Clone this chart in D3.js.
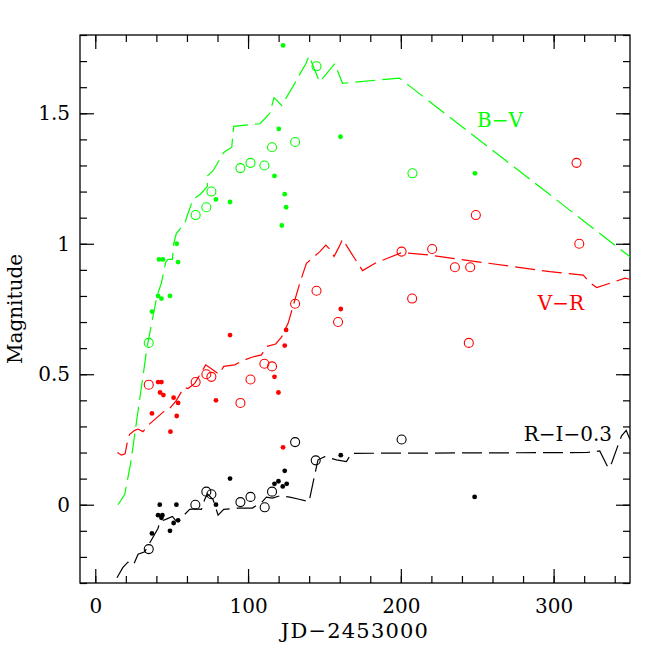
<!DOCTYPE html>
<meta charset="utf-8">
<style>
body { margin: 0; background: #fff; }
svg text { font-family: "DejaVu Serif", serif; font-size: 20px; }
.model { fill: none; stroke-width: 1.2px; stroke-dasharray: 20,7; }
</style>
<body>
<script src="https://d3js.org/d3.v7.min.js"></script>
<script>

// tick values / labels
var xTicks = [0, 100, 200, 300];
var yTicks = [0, 0.5, 1, 1.5];
var yTickLabels = ["0", "0.5", "1", "1.5"];
var xMinor = d3.range(0, 351, 20);
var yMinor = d3.range(-3, 19).map(function(d) { return d / 10; });

// B-V : open circles, filled dots, model line
var bvOpen = [[35,0.62],[65.7,1.11],[72.7,1.14],[76,1.20],[95,1.29],[101.6,1.31],[110.7,1.30],
  [115.7,1.37],[130.8,1.39],[144.8,1.68],[207.6,1.27]];
var bvFill = [[37.1,0.74],[41.1,0.80],[43.3,0.79],[48.9,0.80],[41.7,0.94],[44.3,0.94],[53.3,1.00],
  [54.2,0.93],[79,1.17],[88.2,1.16],[117.3,1.26],[120.1,1.44],[122.9,1.76],[124,1.19],[124.9,1.14],
  [122.1,1.07],[160.5,1.41],[248.5,1.27]];
var bvModel = [[14.9,0.0],[19.3,0.04],[23.2,0.16],[26.3,0.29],[28,0.36],[29.7,0.43],[31.2,0.49],
  [33.5,0.59],[36.7,0.69],[40.4,0.80],[43.3,0.85],[46.1,0.93],[47.6,0.94],[50.5,0.94],[51.3,1.0],
  [53.1,1.04],[58.7,1.08],[60.3,1.11],[64,1.17],[68.8,1.19],[73.4,1.22],[73.4,1.26],[77.1,1.28],
  [84.1,1.35],[89.3,1.37],[90.6,1.45],[107.7,1.46],[111.1,1.48],[114.2,1.50],[117,1.56],[122,1.53],
  [129.1,1.60],[133.9,1.65],[137.8,1.69],[140,1.72],[146.8,1.62],[156.8,1.69],[161.8,1.615],
  [199,1.635],[350,0.95]];

// V-R
var vrOpen = [[35,0.46],[65.7,0.47],[72.7,0.50],[76,0.49],[95,0.39],[101.6,0.48],[110.7,0.54],
  [115.7,0.53],[130.8,0.77],[144.8,0.82],[158.9,0.70],[200.5,0.97],[207.4,0.79],[220.5,0.98],
  [235.4,0.91],[245.4,0.91],[244.5,0.62],[249.1,1.11],[315,1.31],[316.8,1.00]];
var vrFill = [[37.1,0.35],[41.1,0.47],[43.3,0.47],[42.4,0.43],[44.6,0.42],[49.2,0.28],[51.3,0.41],
  [53.3,0.34],[54.2,0.39],[79,0.40],[88.2,0.65],[117.3,0.49],[119.9,0.43],[122.9,0.22],[124,0.61],
  [124.9,0.67],[160.7,0.75]];
var vrModel = [[14.5,0.20],[17.1,0.19],[19.5,0.195],[21,0.24],[22.5,0.27],[25.8,0.285],[28,0.29],
  [31.2,0.28],[35.6,0.31],[45.4,0.36],[47.5,0.36],[53.1,0.40],[58.1,0.45],[60.7,0.445],[65.1,0.465],
  [72.3,0.536],[77.1,0.516],[81,0.50],[84.1,0.53],[91.3,0.536],[95.7,0.55],[102.9,0.566],[108.8,0.574],
  [112,0.606],[118.1,0.616],[121.9,0.642],[126.2,0.695],[133.9,0.85],[138.2,0.925],[147,0.97],
  [150.9,0.995],[154,0.976],[156.3,0.951],[159.6,0.989],[161.8,1.017],[174.9,0.897],[184.1,0.928],
  [200.5,0.966],[217.9,0.957],[297.6,0.893],[319.4,0.88],[323.8,0.851],[328.2,0.832],[346.7,0.868],
  [350,0.864]];

// R-I-0.3
var riOpen = [[35,-0.17],[65.5,0.0],[72.7,0.05],[76,0.04],[95,0.01],[101.6,0.03],[110.9,-0.01],
  [115.7,0.05],[130.8,0.24],[144.3,0.17],[200.5,0.25]];
var riFill = [[37.1,-0.11],[41.1,-0.04],[43.9,-0.04],[43.3,-0.05],[42.2,0.0],[48.9,-0.10],[51.3,-0.07],
  [53.1,0.0],[54.2,-0.06],[79,0.0],[88.2,0.10],[117.3,0.08],[119.9,0.09],[122.7,0.07],[125.3,0.08],
  [124,0.13],[160.7,0.19],[248.3,0.03]];
var riModel = [[14.2,-0.28],[18.1,-0.24],[21.4,-0.22],[25.1,-0.23],[28,-0.19],[32.4,-0.18],[41.1,-0.09],
  [42.2,-0.065],[46.1,-0.056],[50.5,-0.045],[52.5,-0.06],[55.3,-0.056],[61.8,-0.018],[65.1,-0.016],
  [69.5,-0.018],[71.6,0.02],[73.4,0.042],[77.1,0.02],[80.4,-0.04],[84.1,-0.018],[92.4,-0.013],
  [102.9,-0.013],[109.4,0.012],[112,0.029],[115.9,0.025],[120.8,0.034],[127.3,0.029],[132.7,0.022],
  [139.9,0.012],[144.8,0.146],[145.8,0.172],[150.2,0.184],[157.9,0.172],[164.4,0.165],[167.7,0.197],
  [321.6,0.2],[330.2,0.206],[335.8,0.14],[338,0.16],[342.3,0.23],[344.5,0.264],[347.5,0.285],[350,0.25]];

var series = [
  {name: "B\u2212V", color: "#00ff00", open: bvOpen, fill: bvFill, model: bvModel, lx: 500, ly: 127, anchor: "middle"},
  {name: "V\u2212R", color: "#ff0000", open: vrOpen, fill: vrFill, model: vrModel, lx: 561, ly: 310, anchor: "middle"},
  {name: "R\u2212I\u22120.3", color: "#000000", open: riOpen, fill: riFill, model: riModel, lx: 612, ly: 441, anchor: "end"}
];

var W = 654, H = 654;
var pL = 80, pR = 630, pT = 35, pB = 583;

var x = d3.scaleLinear().domain([-10, 350]).range([pL, pR]);
var y = d3.scaleLinear().domain([-0.3, 1.8]).range([pB, pT]);

var svg = d3.select("body").append("svg")
    .attr("width", W)
    .attr("height", H);

svg.append("clipPath").attr("id", "clip")
  .append("rect")
    .attr("x", pL).attr("y", pT)
    .attr("width", pR - pL).attr("height", pB - pT);

// ticks, pointing inward on all four sides
function ticks(axis, vals, size, tr) {
  var g = svg.append("g")
      .attr("transform", tr)
      .call(axis.tickValues(vals).tickSize(-size).tickSizeOuter(0));
  g.select(".domain").remove();
  g.selectAll("line").attr("stroke", "#000").attr("stroke-width", 1.2);
  return g;
}
function noLabels(g) { g.selectAll("text").remove(); }

noLabels(ticks(d3.axisBottom(x), xMinor, 7, "translate(0," + pB + ")"));
noLabels(ticks(d3.axisTop(x), xMinor, 7, "translate(0," + pT + ")"));
noLabels(ticks(d3.axisLeft(y), yMinor, 7, "translate(" + pL + ",0)"));
noLabels(ticks(d3.axisRight(y), yMinor, 7, "translate(" + pR + ",0)"));
noLabels(ticks(d3.axisTop(x), xTicks, 14, "translate(0," + pT + ")"));
noLabels(ticks(d3.axisRight(y), yTicks, 14, "translate(" + pR + ",0)"));

var gx = ticks(d3.axisBottom(x).tickFormat(function(d) { return d; }), xTicks, 14, "translate(0," + pB + ")");
gx.selectAll("text")
    .attr("y", 30).attr("dy", 0)
    .attr("fill", "#000")
    .style("font-family", "DejaVu Serif").style("font-size", "20px");

var gy = ticks(d3.axisLeft(y).tickFormat(function(d, i) { return yTickLabels[i]; }), yTicks, 14, "translate(" + pL + ",0)");
gy.selectAll("text")
    .attr("x", -10)
    .attr("fill", "#000")
    .style("font-family", "DejaVu Serif").style("font-size", "20px");

// frame
svg.append("rect")
    .attr("x", pL).attr("y", pT)
    .attr("width", pR - pL).attr("height", pB - pT)
    .attr("fill", "none").attr("stroke", "#000").attr("stroke-width", 1.3);

var line = d3.line()
    .x(function(d) { return x(d[0]); })
    .y(function(d) { return y(d[1]); });

var plot = svg.append("g").attr("clip-path", "url(#clip)");

series.forEach(function(s) {
  plot.append("path")
      .datum(s.model)
      .attr("class", "model")
      .attr("stroke", s.color)
      .attr("d", line);

  plot.selectAll(null)
      .data(s.open)
    .enter().append("circle")
      .attr("cx", function(d) { return x(d[0]); })
      .attr("cy", function(d) { return y(d[1]); })
      .attr("r", 4.5)
      .attr("fill", "none")
      .attr("stroke", s.color)
      .attr("stroke-width", 1.1);

  plot.selectAll(null)
      .data(s.fill)
    .enter().append("circle")
      .attr("cx", function(d) { return x(d[0]); })
      .attr("cy", function(d) { return y(d[1]); })
      .attr("r", 2.4)
      .attr("fill", s.color);

  svg.append("text")
      .attr("x", s.lx).attr("y", s.ly)
      .attr("text-anchor", s.anchor)
      .attr("fill", s.color)
      .text(s.name);
});

// axis titles
svg.append("text")
    .attr("x", (pL + pR) / 2).attr("y", 638)
    .attr("text-anchor", "middle")
    .style("font-size", "21px")
    .style("letter-spacing", "1.2px")
    .text("JD\u22122453000");

svg.append("text")
    .attr("transform", "translate(22," + ((pT + pB) / 2) + ") rotate(-90)")
    .attr("text-anchor", "middle")
    .text("Magnitude");

</script>
</body>
